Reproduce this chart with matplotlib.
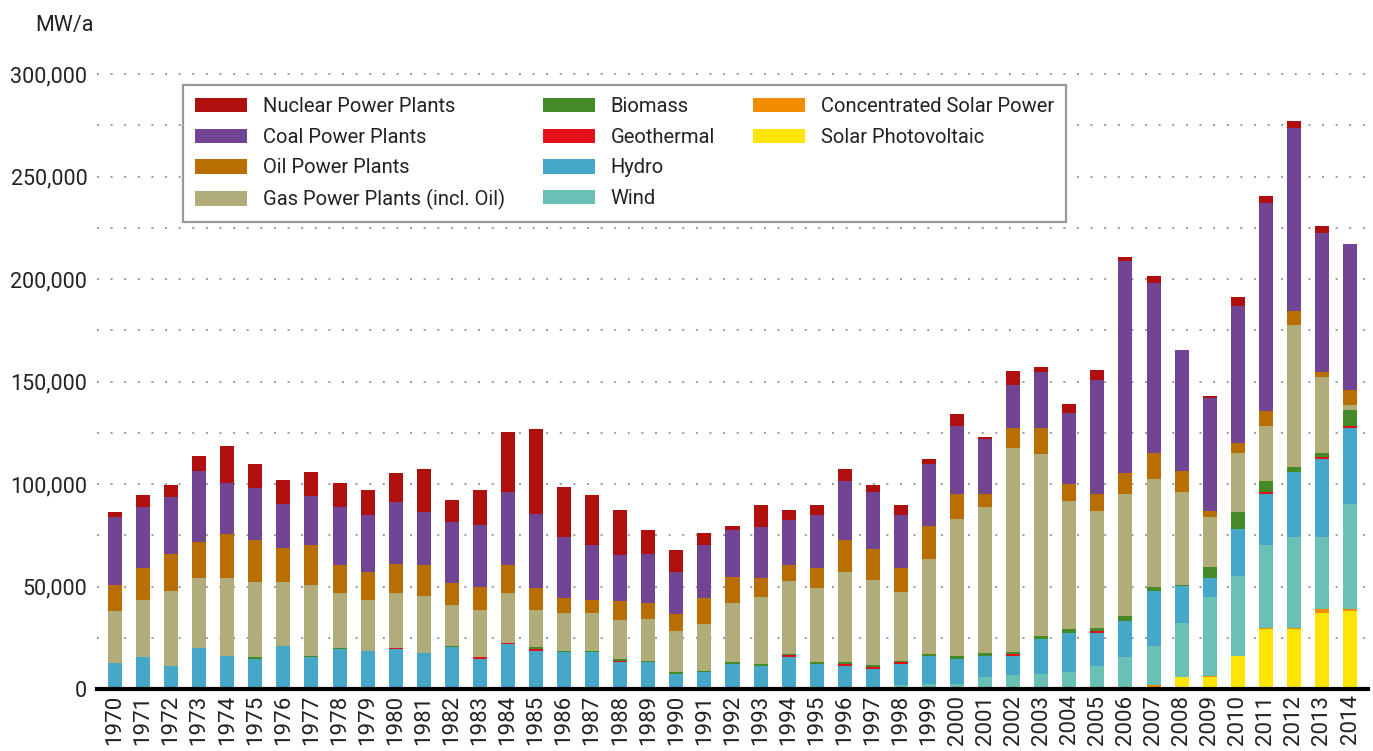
import matplotlib
matplotlib.use("Agg")
import matplotlib.pyplot as plt
from matplotlib.patches import Patch
from matplotlib.ticker import FuncFormatter, MultipleLocator
import numpy as np

plt.rcParams['font.family'] = ['Roboto', 'DejaVu Sans']

years = list(range(1970, 2015))

# annual capacity additions, MW/a
solar_pv = [0]*34 + [500, 500, 500, 1000, 5900, 5900, 16100, 29300, 29300, 37100, 38000]
csp      = [0]*37 + [1000, 0, 400, 0, 500, 500, 1900, 1000]
wind     = [0]*26 + [500, 500, 2000, 2400, 2400, 5900, 6800, 7300, 7800, 10700, 15100,
                     19000, 26300, 38600, 39000, 40400, 44300, 35100, 51200]
hydro = [12700, 15600, 11200, 20000, 16100, 14600, 21000, 15600, 19500, 18500,
         19500, 17600, 20500, 14600, 22000, 18500, 18000, 18000, 13200, 13200,
         7300, 8300, 12200, 11200, 15600, 12200, 10700, 9300, 10200, 13700,
         12200, 10200, 9300, 17100, 19000, 16100, 17600, 26800, 18000, 9200,
         22900, 24900, 31800, 38100, 37100]
geothermal = [0, 0, 0, 0, 0, 0, 0, 0, 0, 0,
              500, 0, 0, 1000, 400, 1000, 0, 0, 500, 0,
              0, 0, 0, 0, 1000, 0, 1000, 900, 1000, 0,
              0, 0, 1000, 0, 0, 1000, 0, 0, 0, 0,
              0, 1000, 0, 1000, 1000]
biomass = [0, 0, 0, 0, 0, 1000, 0, 500, 500, 0,
           0, 0, 500, 0, 0, 1000, 500, 500, 900, 500,
           1000, 500, 1000, 1000, 500, 1000, 1000, 1000, 500, 1000,
           1500, 1500, 900, 1500, 2000, 1500, 2400, 2000, 500, 5400,
           8300, 5400, 2400, 1900, 7800]
gas = [25300, 27800, 36600, 34100, 38000, 36600, 31200, 34600, 26800, 24900,
       26800, 27800, 20000, 22900, 24400, 18000, 18600, 18600, 19100, 20400,
       20000, 22900, 28800, 32700, 35600, 36100, 43900, 41500, 33600, 46300,
       66800, 71200, 99600, 88700, 62400, 57000, 59500, 52600, 45400, 24400,
       28800, 26800, 69300, 37100, 2400]
oil = [12700, 15800, 18100, 17600, 21500, 20500, 16600, 19500, 13700, 13700,
       14200, 15100, 10700, 11300, 13700, 10800, 7300, 6300, 9200, 7900,
       8300, 12700, 12600, 9200, 7800, 9700, 15600, 15100, 11700, 16100,
       12200, 6300, 9700, 12700, 8300, 8300, 10300, 12700, 10200, 2900,
       4900, 7300, 6800, 2400, 7400]
coal = [33200, 29600, 27800, 34600, 24900, 25300, 21400, 23900, 28300, 27800,
        30200, 25800, 29800, 30200, 35600, 36100, 29700, 26800, 22500, 23900,
        20500, 25800, 23000, 24900, 21900, 25900, 28800, 27800, 25900, 30300,
        33200, 26900, 21000, 27300, 34600, 55600, 103400, 82900, 59100, 55200,
        66800, 101500, 89300, 67800, 71200]
nuclear = [2400, 5800, 5800, 7400, 18000, 11800, 11800, 11800, 11700, 12200,
           14200, 21000, 10700, 17100, 29300, 41400, 24400, 24400, 21900, 11700,
           10700, 5900, 1900, 10800, 4900, 4900, 5800, 3400, 4900, 2400,
           5800, 900, 6800, 2500, 4400, 4900, 1900, 3500, 0, 900,
           4400, 3400, 3400, 3500, 0]

labels = ['Solar Photovoltaic', 'Concentrated Solar Power', 'Wind', 'Hydro',
          'Geothermal', 'Biomass', 'Gas Power Plants (incl. Oil)',
          'Oil Power Plants', 'Coal Power Plants', 'Nuclear Power Plants']
colors = ['#FFE500', '#F28C00', '#69C0B4', '#45A8C8', '#E3101A', '#448A26',
          '#B1AD7A', '#B86E00', '#714593', '#AF0F0D']
series = [solar_pv, csp, wind, hydro, geothermal, biomass, gas, oil, coal, nuclear]

W, H = 1373, 751
fig = plt.figure(figsize=(W/100, H/100), dpi=100)
ymax = 305000
ax = fig.add_axes([97/W, 62/H, 1271/W, (615*ymax/300000)/H])

x = np.arange(len(years))
bottom = np.zeros(len(years))
for vals, col in zip(series, colors):
    v = np.array(vals, dtype=float)
    ax.bar(x, v, bottom=bottom, width=0.5, color=col, linewidth=0, zorder=3)
    bottom += v

ax.set_xlim(-0.64, len(years) - 1 + 0.64)
ax.set_ylim(0, ymax)
ax.yaxis.set_major_locator(MultipleLocator(50000))
ax.yaxis.set_minor_locator(MultipleLocator(25000))
ax.yaxis.set_major_formatter(FuncFormatter(lambda v, p: f"{int(v):,}"))
ax.grid(axis='y', which='both', color='#9a9a9a', linestyle=(0, (1, 6)), linewidth=1.4, zorder=0)
ax.set_xticks(x)
ax.set_xticklabels([str(y) for y in years], rotation=90, fontsize=16, color='#222222')
ax.tick_params(axis='both', which='both', length=0)
ax.tick_params(axis='y', labelsize=15.5, labelcolor='#222222', pad=7)
ax.tick_params(axis='x', pad=4)
for s in ['left', 'right', 'top']:
    ax.spines[s].set_visible(False)
ax.spines['bottom'].set_color('black')
ax.spines['bottom'].set_linewidth(3)
ax.spines['bottom'].set_zorder(5)

fig.text(35/W, 1 - 25/H, 'MW/a', fontsize=15.5, color='#222222', ha='left', va='center')

order = [9, 8, 7, 6, 5, 4, 3, 2, 1, 0]
handles = [Patch(facecolor=colors[i], edgecolor='none') for i in order]
labs = [labels[i] for i in order]
blank = Patch(facecolor='none', edgecolor='none')
handles += [blank, blank]
labs += ['', '']
leg = ax.legend(handles, labs, ncol=3, loc='upper left',
                bbox_to_anchor=(183/W, 1 - 85/H), bbox_transform=fig.transFigure,
                fontsize=14.5, frameon=True, fancybox=False, framealpha=1,
                edgecolor='#999999', handlelength=2.6, handleheight=0.72,
                handletextpad=0.75, columnspacing=1.9, labelspacing=0.58,
                borderpad=0.6, borderaxespad=0)
leg.get_frame().set_linewidth(1.6)
for t in leg.get_texts():
    t.set_color('#222222')

fig.savefig('out.png', dpi=100)
